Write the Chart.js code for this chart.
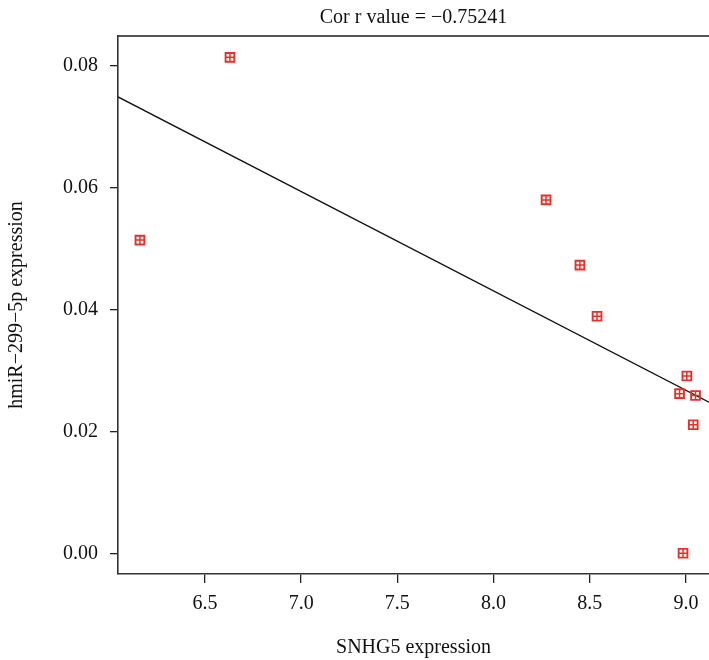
<!DOCTYPE html>
<html>
<head>
<meta charset="utf-8">
<script src="https://cdn.jsdelivr.net/npm/chart.js@4"></script>
<style>
  body { margin: 0; background: #fff; }
</style>
</head>
<body>
<canvas id="myChart" width="709" height="660"></canvas>
<script>
// values
const snhg5 = [6.162, 6.630, 8.273, 8.449, 8.538, 9.005, 8.967, 9.050, 9.038, 8.985];
const mir299 = [0.0514, 0.0814, 0.0580, 0.0473, 0.0389, 0.0291, 0.0262, 0.0259, 0.0211, 0.0000];
const fitX = [6.048, 9.12];
const fitY = [0.0749, 0.0248];
const xTicks = [6.5, 7.0, 7.5, 8.0, 8.5, 9.0];
const yTicks = [0.00, 0.02, 0.04, 0.06, 0.08];

const red = '#e5312c';
const font = { family: "'Liberation Serif', 'DejaVu Serif', serif", size: 20 };
const points = snhg5.map((x, i) => ({ x: x, y: mir299[i] }));
const fitLine = fitX.map((x, i) => ({ x: x, y: fitY[i] }));

const ctx = document.getElementById('myChart').getContext('2d');
const chart = new Chart(ctx, {
    type: 'scatter',
    data: {
        datasets: [{
            // square part of the marker
            data: points,
            pointStyle: 'rect',
            pointRadius: 6.2,
            borderColor: red,
            backgroundColor: 'rgba(0,0,0,0)',
            borderWidth: 1.9
        },
        {
            // plus part of the marker
            data: points,
            pointStyle: 'cross',
            pointRadius: 4.4,
            borderColor: red,
            borderWidth: 1.5
        },
        {
            type: 'line',
            data: fitLine,
            borderColor: '#111',
            borderWidth: 1.3,
            pointRadius: 0,
            fill: false
        }]
    },
    options: {
        responsive: false,
        animation: false,
        layout: { padding: 0, autoPadding: false },
        plugins: {
            legend: { display: false },
            tooltip: { enabled: false },
            title: {
                display: true,
                text: 'Cor r value = \u22120.75241',
                color: '#111',
                fullSize: false,
                font: { family: font.family, size: 20, weight: 'normal', lineHeight: 1.2 },
                padding: { top: 6, bottom: 6 }
            }
        },
        scales: {
            x: {
                type: 'linear',
                min: 6.048,
                max: 9.12,
                afterBuildTicks: (scale) => { scale.ticks = xTicks.map(v => ({ value: v })); },
                afterFit: (scale) => {
                    scale.height = 86;
                    scale.paddingLeft = 0;
                    scale.paddingRight = 0;
                },
                grid: { drawOnChartArea: false, tickLength: 9, color: '#222', lineWidth: 1.3 },
                border: { color: '#333', width: 1.6 },
                ticks: {
                    color: '#111',
                    font: font,
                    padding: 9,
                    maxRotation: 0,
                    callback: (v) => v.toFixed(1)
                },
                title: {
                    display: true,
                    text: 'SNHG5 expression',
                    color: '#111',
                    font: { family: font.family, size: 20, lineHeight: 1.2 },
                    padding: { top: 0, bottom: 0 }
                }
            },
            xTop: {
                type: 'linear',
                position: 'top',
                min: 0,
                max: 1,
                afterFit: (scale) => {
                    scale.height = 0;
                    scale.paddingLeft = 0;
                    scale.paddingRight = 0;
                },
                grid: { display: false },
                ticks: { display: false },
                border: { display: true, color: '#555', width: 2 }
            },
            y: {
                type: 'linear',
                min: -0.0034,
                max: 0.0849,
                afterBuildTicks: (scale) => { scale.ticks = yTicks.map(v => ({ value: v })); },
                afterFit: (scale) => {
                    scale.width = 118;
                    scale.paddingTop = 0;
                    scale.paddingBottom = 0;
                },
                grid: { drawOnChartArea: false, tickLength: 8, color: '#222', lineWidth: 1.3 },
                border: { color: '#333', width: 1.6 },
                ticks: {
                    color: '#111',
                    font: font,
                    padding: 12,
                    callback: (v) => v.toFixed(2)
                },
                title: {
                    display: true,
                    text: 'hmiR\u2212299\u22125p expression',
                    color: '#111',
                    font: { family: font.family, size: 20, lineHeight: 1.2 },
                    padding: { top: 5, bottom: 0 }
                }
            }
        }
    }
});
</script>
</body>
</html>
